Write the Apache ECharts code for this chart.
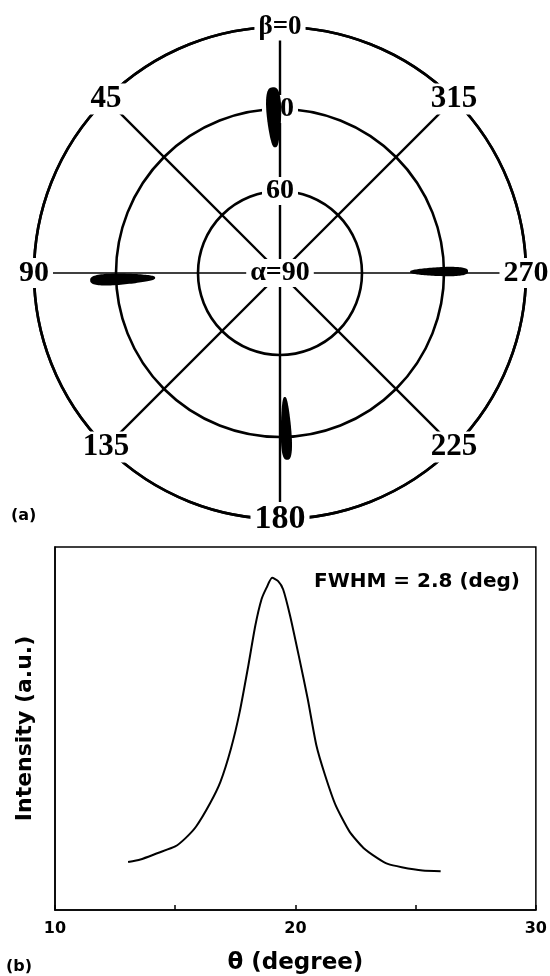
<!DOCTYPE html>
<html><head><meta charset="utf-8">
<script src="https://cdn.jsdelivr.net/npm/echarts@6/dist/echarts.min.js"></script>
<style>html,body{margin:0;padding:0;background:#fff}#c{width:550px;height:976px}</style>
</head><body><div id="c"></div>
<script>
// ---------- (a) pole figure ----------
const betaTicks = [0, 45, 90, 135, 180, 225, 270, 315];
const betaLabels = ['β=0', '45', '90', '135', '180', '225', '270', '315'];
const alphaLabelValues = [30, 60, 90];
const alphaLabels = ['30', '60', 'α=90'];
// poles: centre alpha, centre beta, alpha half-length, beta half-width
const poleAlpha = [33.0, 32.4, 31.8, 33.1];
const poleBeta = [2.2, 92.2, 270.5, 182.2];
const poleAlphaHalf = [11.0, 11.9, 10.6, 11.5];
const poleBetaHalf = [2.6, 2.0, 1.6, 1.9];

// ---------- (b) rocking curve ----------
const theta = [13.04, 13.55, 14.28, 15.0, 15.43, 15.87, 16.45, 16.88, 17.32, 17.68, 18.04, 18.33, 18.59, 18.80, 19.03, 19.28, 19.49, 19.78, 20.14, 20.51, 20.87, 21.23, 21.67, 22.25, 22.83, 23.41, 23.84, 24.42, 25.29, 26.04];
const intensity = [13.2, 13.9, 15.7, 17.5, 19.8, 23.0, 29.4, 35.3, 44.5, 54.5, 67.3, 78.3, 85.6, 88.8, 91.5, 90.6, 88.3, 81.0, 70.0, 58.2, 45.4, 37.2, 28.9, 21.6, 17.1, 14.3, 12.7, 11.8, 10.9, 10.7];
const xTickLabels = ['10', '20', '30'];

const serif = 'Liberation Serif';
const sans = 'DejaVu Sans';

function betaFont(b) {
  if (b === 180) return 34;
  if (b === 0) return 27;
  if (b === 90 || b === 270) return 30;
  return 31;
}

const spokeSeries = betaTicks.map(b => ({
  type: 'line', coordinateSystem: 'polar', silent: true, z: 2,
  symbol: 'none', animation: false,
  data: [[90, b], [0, b]],
  lineStyle: { color: '#000', width: (b === 90 || b === 270) ? 1.3 : 2.4 }
}));

const labelData = betaTicks.map((b, i) => ({
  value: [0, b], name: betaLabels[i], fs: betaFont(b)
})).concat(alphaLabelValues.map((a, i) => ({
  value: [a, 0], name: alphaLabels[i], fs: 28
})));

const chart = echarts.init(document.getElementById('c'), null, { renderer: 'canvas' });
chart.setOption({
  backgroundColor: '#fff',
  animation: false,
  polar: { center: [280, 273], radius: 246 },
  angleAxis: {
    type: 'value', min: 0, max: 360, interval: 45, startAngle: 90, clockwise: false,
    axisLine: { show: true, lineStyle: { color: '#000', width: 2.6 } },
    axisTick: { show: false }, axisLabel: { show: false }, splitLine: { show: false }
  },
  radiusAxis: {
    type: 'value', min: 0, max: 90, interval: 30, inverse: true,
    axisLine: { show: false }, axisTick: { show: false }, axisLabel: { show: false },
    splitLine: { show: true, lineStyle: { color: '#000', width: 2.6 } }
  },
  grid: { left: 55, right: 12, top: 547, bottom: 64, show: true, borderColor: '#000', borderWidth: 1.5 },
  xAxis: {
    type: 'value', min: 10, max: 30, interval: 5,
    axisLine: { lineStyle: { color: '#000', width: 1.5 } },
    axisTick: { inside: true, length: 5, lineStyle: { color: '#000', width: 1.5 } },
    axisLabel: {
      formatter: v => (xTickLabels.indexOf(String(v)) >= 0 ? String(v) : ''),
      fontFamily: sans, fontWeight: 'bold', fontSize: 16, color: '#000', margin: 11
    },
    splitLine: { show: false },
    name: 'θ (degree)', nameLocation: 'middle', nameGap: 42,
    nameTextStyle: { fontFamily: sans, fontWeight: 'bold', fontSize: 23, color: '#000' }
  },
  yAxis: {
    type: 'value', min: 0, max: 100,
    axisLine: { show: true, lineStyle: { color: '#000', width: 1.5 } },
    axisTick: { show: false }, axisLabel: { show: false }, splitLine: { show: false },
    name: 'Intensity (a.u.)', nameLocation: 'middle', nameGap: 19,
    nameTextStyle: { fontFamily: sans, fontWeight: 'bold', fontSize: 22, color: '#000' }
  },
  graphic: [
    { type: 'text', left: 11, top: 508, style: { text: '(a)', font: 'bold 16px "DejaVu Sans"', fill: '#000' } },
    { type: 'text', left: 6, top: 959, style: { text: '(b)', font: 'bold 16px "DejaVu Sans"', fill: '#000' } },
    { type: 'text', left: 314, top: 572, style: { text: 'FWHM = 2.8 (deg)', font: 'bold 20px "DejaVu Sans"', fill: '#000' } }
  ],
  series: spokeSeries.concat([
    {
      type: 'custom', coordinateSystem: 'polar', z: 3, silent: true,
      data: labelData.map(d => [d.value[0], d.value[1]]),
      renderItem: function (params, api) {
        const d = labelData[params.dataIndex];
        const p = api.coord([api.value(0), api.value(1)]);
        return {
          type: 'text', x: p[0], y: p[1],
          style: {
            text: d.name, fill: '#000', align: 'center', verticalAlign: 'middle',
            font: 'bold ' + d.fs + 'px "' + serif + '"',
            backgroundColor: '#fff', padding: [0, 4]
          }
        };
      }
    },
    {
      type: 'custom', coordinateSystem: 'polar', z: 4, silent: true,
      data: poleAlpha.map((a, i) => [a, poleBeta[i], poleAlphaHalf[i], poleBetaHalf[i]]),
      renderItem: function (params, api) {
        const ac = api.value(0), bc = api.value(1), ah = api.value(2), bh = api.value(3);
        const pts = [];
        const N = 96;
        for (let k = 0; k <= N; k++) {
          const t = k / N * 2 * Math.PI;
          const u = Math.cos(t);
          const s = Math.sin(t);
          const w = Math.sign(s) * Math.pow(Math.abs(s), 0.7) * (1 - 0.12 * u);
          pts.push(api.coord([ac + ah * u, bc + bh * w]));
        }
        return { type: 'polygon', shape: { points: pts }, style: { fill: '#000' } };
      }
    },
    {
      type: 'line', xAxisIndex: 0, yAxisIndex: 0, showSymbol: false, symbol: 'none', smooth: 0.2,
      data: theta.map((t, i) => [t, intensity[i]]),
      lineStyle: { color: '#000', width: 2 }
    }
  ])
});
</script></body></html>
